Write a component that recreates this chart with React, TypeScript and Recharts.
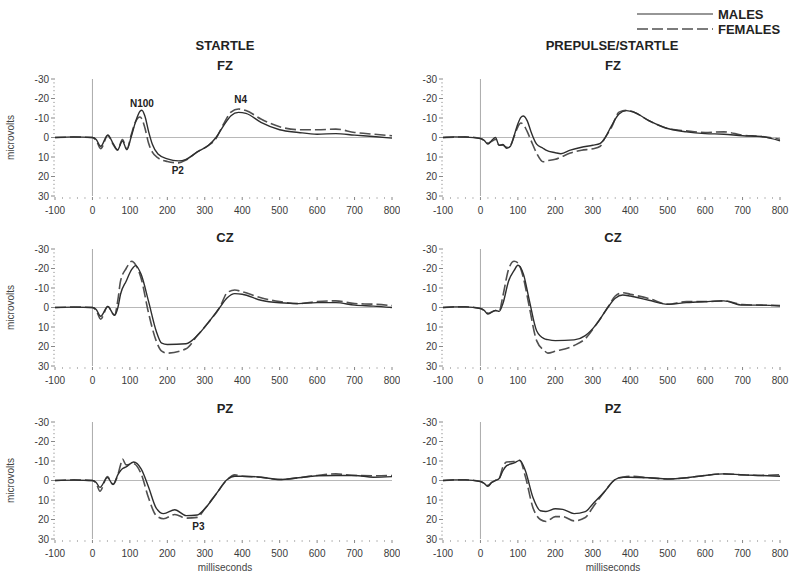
import { LineChart, Line, XAxis, YAxis, ReferenceLine, ReferenceDot } from 'recharts'

// ─── Data (microvolts, negative plotted upward) ──────────────────────────────

const FZ_STARTLE_MS = [-100, -50, 0, 10, 22, 41, 55, 67, 80, 92, 103, 115, 127, 132, 140, 150, 160, 175, 200, 230, 250, 280, 310, 330, 350, 370, 390, 410, 450, 500, 550, 600, 650, 700, 750, 800]
const FZ_STARTLE_MALES = [0, -0.3, 0, 1, 4.5, -1.3, 3, 6.3, 1.8, 6.3, 0, -8, -13.5, -14, -11, -3, 3.5, 8.5, 11, 12, 11.2, 7.4, 4, 0, -6, -11.2, -12.9, -12.4, -7.8, -4, -2.6, -1.7, -2, -1.2, -0.5, 0.3]
const FZ_STARTLE_FEMALES = [0, -0.2, 0, 1.5, 5.7, -1, 3.5, 6.5, 1, 6, -1, -8, -10.5, -9.5, -5, 3, 7.5, 10.5, 12.3, 13, 11.5, 7.4, 4, 0.5, -6.9, -13, -14.6, -13.8, -9.5, -5.5, -4, -4, -4.3, -2.6, -1.7, -0.9]

const FZ_PREPULSE_MS = [-100, -70, -40, 0, 10, 20, 30, 40, 50, 60, 70, 80, 90, 100, 108, 114, 125, 135, 150, 167, 175, 200, 215, 240, 270, 300, 320, 330, 350, 370, 390, 410, 450, 500, 550, 600, 650, 700, 750, 800]
const FZ_PREPULSE_MALES = [0, -0.3, -0.2, 0.5, 1.5, 3.4, 1.5, 0, 4, 3.5, 5.5, 4.5, -1, -7, -10.3, -11, -8.5, -3, 3.4, 5.5, 6.5, 7.8, 8.3, 6.5, 5, 4, 3, 1, -6, -12, -13.8, -13, -8.6, -4.6, -2.9, -2, -1.7, -0.9, -0.5, 1.7]
const FZ_PREPULSE_FEMALES = [0, -0.2, -0.3, 0.5, 1.5, 3, 2, 1, 4, 4, 5, 4, -0.5, -5.5, -7.4, -6.8, -3, 1.5, 8, 12.4, 12, 11.2, 10, 8, 6.5, 5.8, 4.5, 1, -5.2, -13, -14, -13, -8.6, -4.6, -3.4, -2.6, -2.9, -1.2, -0.5, 0.9]

const CZ_STARTLE_MS = [-100, -50, 0, 10, 22, 41, 59, 68, 75, 90, 105, 115, 130, 150, 170, 185, 200, 250, 280, 310, 340, 360, 380, 400, 450, 500, 550, 600, 650, 700, 750, 800]
const CZ_STARTLE_MALES = [0, -0.2, 0, 1, 4.5, -0.5, 4, 0, -6.8, -13.5, -19.5, -21.5, -17, -3, 11.9, 18.3, 19, 18.6, 14.4, 7.6, 0, -5, -7.1, -6.8, -3.7, -2.4, -2, -2.5, -2.5, -1.2, -0.7, 0]
const CZ_STARTLE_FEMALES = [0, -0.2, 0, 1.5, 6, -0.5, 4, -4, -13.5, -20, -23.7, -22, -15, 3, 17, 22.4, 23.4, 21.2, 14.4, 7.6, 0, -7.6, -9, -8.1, -5, -3, -2, -3, -3.4, -2, -1.7, -1]

const CZ_PREPULSE_MS = [-100, -70, -40, 0, 10, 20, 40, 50, 60, 75, 90, 100, 115, 130, 150, 170, 180, 200, 250, 280, 310, 340, 360, 380, 400, 450, 500, 550, 600, 650, 700, 750, 800]
const CZ_PREPULSE_MALES = [0, -0.3, -0.3, 0.5, 1.5, 3.4, 1.5, 2, -2, -13.5, -19, -21.7, -17, -4.2, 11.9, 16, 16.5, 17, 16.6, 14.4, 8.5, 0, -4.7, -6.4, -5.9, -3.7, -1.7, -2.5, -3, -3.4, -1.2, -1.2, -0.7]
const CZ_PREPULSE_FEMALES = [0, -0.3, -0.3, 0.5, 1.5, 3, 1.5, 2, -6, -19.5, -23.7, -22.9, -15, -0.8, 17, 22, 23.4, 22.4, 19.5, 16, 8.5, 0, -5.9, -7.6, -6.8, -4.6, -1.7, -3, -3, -3.4, -1.5, -1.2, -1]

const PZ_STARTLE_MS = [-100, -50, 0, 10, 20, 40, 55, 68, 75, 80, 90, 110, 130, 150, 170, 190, 220, 250, 280, 300, 330, 360, 380, 400, 450, 500, 550, 600, 650, 700, 750, 800]
const PZ_STARTLE_MALES = [0, -0.2, 0, 1, 3.5, -1.5, 2, -3, -5, -6, -7, -9.5, -6, 3.4, 14, 17, 15, 18, 17.7, 14.5, 7, -0.5, -2.2, -2.2, -1.7, -0.5, -1.4, -2.4, -2.6, -2.6, -1.7, -2]
const PZ_STARTLE_FEMALES = [0, -0.3, 0, 1.5, 5.5, -2, 2, -3, -8, -11, -8, -8.6, -3.4, 9, 17.9, 19.6, 17.4, 19.3, 18.9, 14.5, 7, -0.5, -2.9, -2.2, -1.7, -0.5, -1.4, -2.6, -3.4, -2.6, -2.4, -2.6]

const PZ_PREPULSE_MS = [-100, -70, -40, 0, 10, 20, 30, 40, 50, 60, 70, 90, 105, 120, 140, 160, 175, 200, 220, 250, 280, 300, 330, 360, 380, 400, 450, 500, 550, 600, 650, 700, 750, 800]
const PZ_PREPULSE_MALES = [0, -0.3, -0.3, 0.5, 1.5, 3, 1, 0, -1, -5, -7.6, -9, -10.3, -5, 8.6, 15.5, 15.9, 14.5, 14.8, 17, 16, 12, 6, -0.5, -1.7, -1.7, -1.4, -0.8, -1.4, -2.6, -3.4, -2.9, -2.6, -2.2]
const PZ_PREPULSE_FEMALES = [0, -0.3, -0.3, 0.5, 1.5, 2.5, 1, 0, -1, -7, -9.5, -9.7, -10.3, -2, 13.8, 20, 21, 18.5, 18.5, 20.7, 19, 13.8, 6, -0.5, -1.7, -2.2, -1.4, -0.8, -1.4, -2.6, -3.4, -2.9, -2.6, -3]

const X_MAJOR = [-100, 0, 100, 200, 300, 400, 500, 600, 700, 800]
const Y_MAJOR = [-30, -20, -10, 0, 10, 20, 30]
const X_TICKS = Array.from({ length: 46 }, (_, i) => -100 + i * 20)
const Y_TICKS = Array.from({ length: 31 }, (_, i) => -30 + i * 2)

const FZ_STARTLE_NOTES = [
  { label: 'N100', t: 132, v: -17.5 },
  { label: 'P2', t: 228, v: 16.7 },
  { label: 'N4', t: 396, v: -19.7 },
]
const PZ_STARTLE_NOTES = [{ label: 'P3', t: 283, v: 23.8 }]

// ─── Look ─────────────────────────────────────────────────────────────────────

const FONT = '"Liberation Sans", Arial, Helvetica, sans-serif'
const MALE_COLOR = '#2e2e2e'
const FEMALE_COLOR = '#505050'
const FEMALE_DASH = '11 4'
const PLOT_H = 117
const TOP_PAD = 10
const X_AXIS_H = 30

function YTick({ x, y, payload }: any) {
  const major = Y_MAJOR.includes(payload.value)
  return (
    <g>
      <line x1={x - (major ? 4 : 2)} x2={x} y1={y} y2={y} stroke={major ? '#888' : '#bbb'} />
      {major && (
        <text x={x - 6} y={y} dy={3.5} textAnchor="end" fontSize={10} fill="#3a3a3a" fontFamily={FONT}>
          {payload.value}
        </text>
      )}
    </g>
  )
}

function XTick({ x, y, payload }: any) {
  const major = X_MAJOR.includes(payload.value)
  return (
    <g>
      <line x1={x} x2={x} y1={y + 1} y2={y + (major ? 4 : 3)} stroke={major ? '#888' : '#bbb'} />
      {major && (
        <text x={x} y={y + 18} textAnchor="middle" fontSize={10} fill="#3a3a3a" fontFamily={FONT}>
          {payload.value}
        </text>
      )}
    </g>
  )
}

interface PanelProps {
  left: number
  top: number
  yAxisWidth: number
  rightPad: number
  ms: number[]
  males: number[]
  females: number[]
  notes?: { label: string; t: number; v: number }[]
}

function Panel({ left, top, yAxisWidth, rightPad, ms, males, females, notes = [] }: PanelProps) {
  const data = ms.map((t, i) => ({ t, males: males[i], females: females[i] }))
  return (
    <div style={{ position: 'absolute', left, top: top - TOP_PAD }}>
      <LineChart
        width={400}
        height={TOP_PAD + PLOT_H + X_AXIS_H}
        data={data}
        margin={{ top: TOP_PAD, right: rightPad, bottom: 0, left: 0 }}
      >
        <XAxis
          dataKey="t"
          type="number"
          domain={[-100, 800]}
          ticks={X_TICKS}
          interval={0}
          tick={<XTick />}
          tickSize={0}
          tickMargin={0}
          tickLine={false}
          axisLine={false}
          height={X_AXIS_H}
        />
        <YAxis
          type="number"
          domain={[-30, 30]}
          reversed
          ticks={Y_TICKS}
          interval={0}
          tick={<YTick />}
          tickSize={0}
          tickMargin={0}
          tickLine={false}
          axisLine={false}
          width={yAxisWidth}
        />
        <ReferenceLine y={0} stroke="#b8b8b8" strokeWidth={1} />
        <ReferenceLine x={0} stroke="#aaaaaa" strokeWidth={1} />
        <Line
          type="monotone"
          dataKey="females"
          stroke={FEMALE_COLOR}
          strokeWidth={1.6}
          strokeDasharray={FEMALE_DASH}
          dot={false}
          isAnimationActive={false}
        />
        <Line
          type="monotone"
          dataKey="males"
          stroke={MALE_COLOR}
          strokeWidth={1.4}
          dot={false}
          isAnimationActive={false}
        />
        {notes.map((n) => (
          <ReferenceDot
            key={n.label}
            x={n.t}
            y={n.v}
            r={0}
            fill="none"
            stroke="none"
            label={{ value: n.label, position: 'center', fontSize: 10, fontWeight: 'bold', fill: '#222', fontFamily: FONT }}
          />
        ))}
      </LineChart>
    </div>
  )
}

const ROW_TOPS = [79, 249, 422]

export default function App() {
  const txt = { fontFamily: FONT, fill: '#222' }
  return (
    <div style={{ position: 'absolute', left: 0, top: 0, width: 800, height: 579, background: '#fff', fontFamily: FONT }}>
      <Panel left={0} top={ROW_TOPS[0]} yAxisWidth={55} rightPad={8} ms={FZ_STARTLE_MS} males={FZ_STARTLE_MALES} females={FZ_STARTLE_FEMALES} notes={FZ_STARTLE_NOTES} />
      <Panel left={400} top={ROW_TOPS[0]} yAxisWidth={43} rightPad={20} ms={FZ_PREPULSE_MS} males={FZ_PREPULSE_MALES} females={FZ_PREPULSE_FEMALES} />
      <Panel left={0} top={ROW_TOPS[1]} yAxisWidth={55} rightPad={8} ms={CZ_STARTLE_MS} males={CZ_STARTLE_MALES} females={CZ_STARTLE_FEMALES} />
      <Panel left={400} top={ROW_TOPS[1]} yAxisWidth={43} rightPad={20} ms={CZ_PREPULSE_MS} males={CZ_PREPULSE_MALES} females={CZ_PREPULSE_FEMALES} />
      <Panel left={0} top={ROW_TOPS[2]} yAxisWidth={55} rightPad={8} ms={PZ_STARTLE_MS} males={PZ_STARTLE_MALES} females={PZ_STARTLE_FEMALES} notes={PZ_STARTLE_NOTES} />
      <Panel left={400} top={ROW_TOPS[2]} yAxisWidth={43} rightPad={20} ms={PZ_PREPULSE_MS} males={PZ_PREPULSE_MALES} females={PZ_PREPULSE_FEMALES} />

      <svg width={800} height={579} style={{ position: 'absolute', left: 0, top: 0, pointerEvents: 'none' }}>
        {/* legend */}
        <line x1={637} x2={713} y1={14} y2={14} stroke={MALE_COLOR} strokeWidth={1.2} />
        <line x1={637} x2={713} y1={29} y2={29} stroke={FEMALE_COLOR} strokeWidth={1.4} strokeDasharray={FEMALE_DASH} />
        <text x={718} y={19} fontSize={13} fontWeight="bold" {...txt}>MALES</text>
        <text x={718} y={34} fontSize={13} fontWeight="bold" {...txt}>FEMALES</text>

        {/* column + electrode titles */}
        <text x={225} y={50} fontSize={13} fontWeight="bold" textAnchor="middle" {...txt}>STARTLE</text>
        <text x={612} y={50} fontSize={13} fontWeight="bold" textAnchor="middle" {...txt}>PREPULSE/STARTLE</text>
        <text x={225} y={70} fontSize={13} fontWeight="bold" textAnchor="middle" {...txt}>FZ</text>
        <text x={613} y={70} fontSize={13} fontWeight="bold" textAnchor="middle" {...txt}>FZ</text>
        <text x={225} y={242} fontSize={13} fontWeight="bold" textAnchor="middle" {...txt}>CZ</text>
        <text x={613} y={242} fontSize={13} fontWeight="bold" textAnchor="middle" {...txt}>CZ</text>
        <text x={225} y={413} fontSize={13} fontWeight="bold" textAnchor="middle" {...txt}>PZ</text>
        <text x={613} y={413} fontSize={13} fontWeight="bold" textAnchor="middle" {...txt}>PZ</text>

        {/* axis titles */}
        {ROW_TOPS.map((top) => (
          <text
            key={top}
            transform={`translate(14, ${top + PLOT_H / 2}) rotate(-90)`}
            fontSize={10}
            textAnchor="middle"
            fontFamily={FONT}
            fill="#444"
          >
            microvolts
          </text>
        ))}
        <text x={225} y={571} fontSize={10} textAnchor="middle" fontFamily={FONT} fill="#444">milliseconds</text>
        <text x={613} y={571} fontSize={10} textAnchor="middle" fontFamily={FONT} fill="#444">milliseconds</text>
      </svg>
    </div>
  )
}
